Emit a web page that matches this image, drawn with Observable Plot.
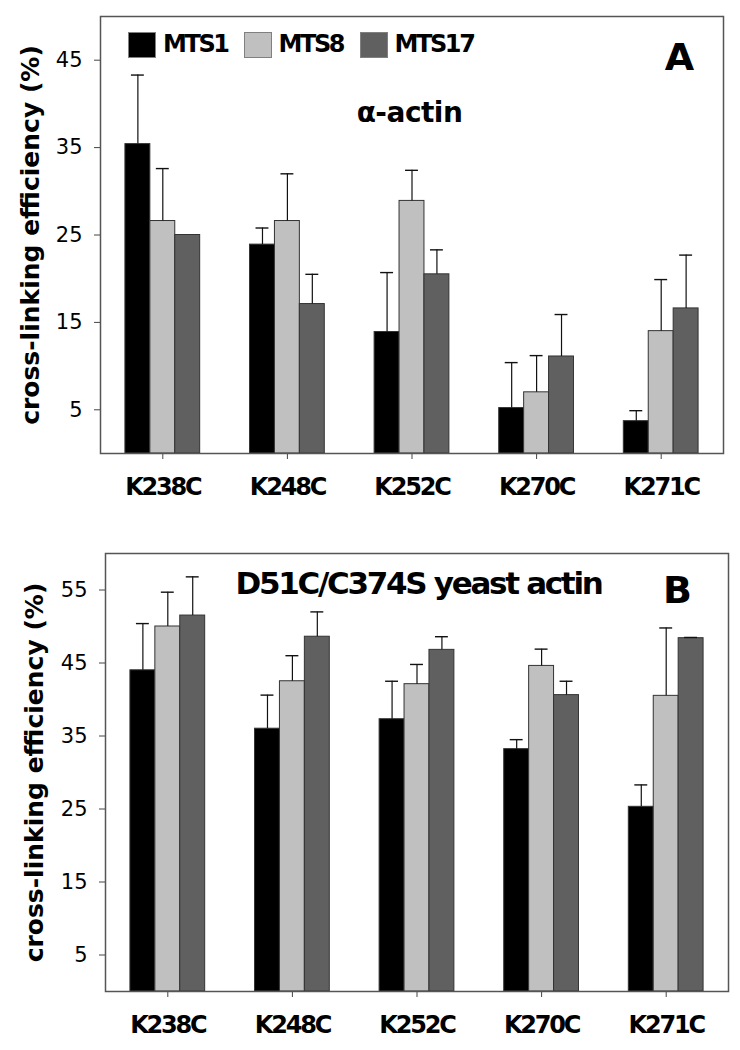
<!DOCTYPE html>
<html><head><meta charset="utf-8">
<script src="https://cdn.jsdelivr.net/npm/d3@7"></script>
<script src="https://cdn.jsdelivr.net/npm/@observablehq/plot@0.6"></script>
<style>
body{margin:0;background:#fff;font-family:"DejaVu Sans",sans-serif;}
#wrap{position:relative;width:740px;height:1050px;overflow:hidden}
#wrap svg{display:block}
.leg{position:absolute;top:32px;display:flex;align-items:center;height:25px}
.sw{width:26px;height:24px;border:1px solid #808080;box-sizing:content-box}
.lab{font-weight:bold;font-size:24px;letter-spacing:-2.4px;margin-left:7px;line-height:25px;color:#000}
</style></head><body><div id="wrap"></div>
<script>
// ---- data ----
const categories = ["K238C","K248C","K252C","K270C","K271C"];
const series = ["MTS1","MTS8","MTS17"];
const seriesColors = ["#000000","#c0c0c0","#606060"];
const yLabel = "cross-linking efficiency (%)";

// Panel A: α-actin (means and error magnitudes)
const aMTS1 = [35.4, 23.9, 13.9, 5.2, 3.7];
const aMTS1err = [7.9, 1.9, 6.8, 5.2, 1.2];
const aMTS8 = [26.6, 26.6, 28.9, 7.0, 14.0];
const aMTS8err = [6.0, 5.4, 3.5, 4.2, 5.9];
const aMTS17 = [25.0, 17.1, 20.5, 11.1, 16.6];
const aMTS17err = [null, 3.4, 2.8, 4.8, 6.1];
const aTicks = [5, 15, 25, 35, 45];

// Panel B: D51C/C374S yeast actin
const bMTS1 = [44.0, 36.0, 37.3, 33.2, 25.3];
const bMTS1err = [6.4, 4.6, 5.2, 1.3, 3.0];
const bMTS8 = [50.0, 42.5, 42.1, 44.6, 40.5];
const bMTS8err = [4.7, 3.5, 2.7, 2.3, 9.3];
const bMTS17 = [51.5, 48.6, 46.8, 40.6, 48.4];
const bMTS17err = [5.3, 3.4, 1.8, 1.9, 0.1];
const bTicks = [5, 15, 25, 35, 45, 55];

// ---- build ----
const slots = categories.flatMap(c => [c + "|L", ...series.map(s => c + "|" + s), c + "|R"]);
const tickSlots = categories.map(c => c + "|" + series[1]);

function rowsFrom(means, errs) {
  return categories.flatMap((c, i) => series.map((s, j) => ({
    category: c, series: s, slot: c + "|" + s, mean: means[j][i], err: errs[j][i]
  })));
}
const rowsA = rowsFrom([aMTS1, aMTS8, aMTS17], [aMTS1err, aMTS8err, aMTS17err]);
const rowsB = rowsFrom([bMTS1, bMTS8, bMTS17], [bMTS1err, bMTS8err, bMTS17err]);

function panel(o) {
  const errRows = o.rows.filter(d => d.err != null);
  const svg = Plot.plot({
    width: 740, height: o.height,
    marginLeft: o.ml, marginRight: o.mr, marginTop: o.mt, marginBottom: o.mb,
    style: {fontFamily: "DejaVu Sans", color: "#000", background: "transparent", overflow: "visible"},
    x: {domain: slots, paddingInner: 0, paddingOuter: 0, round: false, axis: null},
    y: {domain: o.yDomain, axis: null},
    color: {domain: series, range: seriesColors},
    marks: [
      Plot.barY(o.rows, {x: "slot", y: "mean", fill: "series", stroke: "#333", strokeWidth: 1}),
      Plot.ruleX(errRows, {x: "slot", y1: "mean", y2: d => d.mean + d.err, stroke: "#111", strokeWidth: 1.2}),
      Plot.tickY(errRows, {x: "slot", y: d => d.mean + d.err, insetLeft: 6, insetRight: 6, stroke: "#111", strokeWidth: 1.4}),
      Plot.axisY({ticks: o.ticks, tickSize: 6, tickPadding: 12, fontSize: 21, tickFormat: d => String(d), label: null, stroke: "#444"}),
      Plot.axisX({ticks: tickSlots, tickFormat: d => d.split("|")[0], tickSize: 6, tickPadding: 18, fontSize: 24, fontWeight: "bold", label: null, stroke: "#444"}),
      Plot.frame({stroke: "#555", strokeWidth: 1.5}),
      Plot.text([yLabel], {frameAnchor: "left", dx: o.labelDx, rotate: -90, textAnchor: "middle", lineAnchor: "middle", fontSize: 25, fontWeight: "bold", fill: "#000"}),
      Plot.text([o.title], {frameAnchor: "top-left", dx: o.titleDx, dy: o.titleDy, lineAnchor: "middle", fontSize: o.titleSize, fontWeight: "bold", textAnchor: "middle", fill: "#000"}),
      Plot.text([o.letter], {frameAnchor: "top-left", dx: o.letterDx, dy: o.letterDy, lineAnchor: "middle", fontSize: o.letterSize, fontWeight: "bold", textAnchor: "middle", fill: "#000"})
    ]
  });
  d3.select(svg).selectAll("text").each(function() {
    const t = this.textContent;
    const sel = d3.select(this);
    if (categories.includes(t)) sel.style("font-size", "24px").style("font-weight", "bold").style("letter-spacing", "-2.2px");
    if (o.ticks.map(String).includes(t)) sel.style("font-size", "21px");
    if (t === o.title) sel.style("letter-spacing", o.titleSpacing);
  });
  return svg;
}

const wrap = document.getElementById("wrap");
wrap.appendChild(panel({
  rows: rowsA, yDomain: [0, 50], ticks: aTicks, height: 530,
  ml: 100, mr: 17, mt: 16, mb: 77, labelDx: -70,
  title: "α-actin", titleDx: 309, titleDy: 97, titleSize: 28, titleSpacing: "-0.5px",
  letter: "A", letterDx: 579, letterDy: 41, letterSize: 38
}));
wrap.appendChild(panel({
  rows: rowsB, yDomain: [0, 60], ticks: bTicks, height: 520,
  ml: 105, mr: 12, mt: 23, mb: 59, labelDx: -71,
  title: "D51C/C374S yeast actin", titleDx: 313, titleDy: 31, titleSize: 31, titleSpacing: "-2.3px",
  letter: "B", letterDx: 572, letterDy: 37, letterSize: 38
}));

// legend inside panel A
const legLeft = [128, 243.5, 359.5];
series.forEach((s, i) => {
  const item = document.createElement("div");
  item.className = "leg";
  item.style.left = legLeft[i] + "px";
  const sw = document.createElement("div");
  sw.className = "sw";
  sw.style.background = seriesColors[i];
  const lab = document.createElement("span");
  lab.className = "lab";
  lab.textContent = s;
  item.appendChild(sw); item.appendChild(lab);
  wrap.appendChild(item);
});
</script></body></html>
